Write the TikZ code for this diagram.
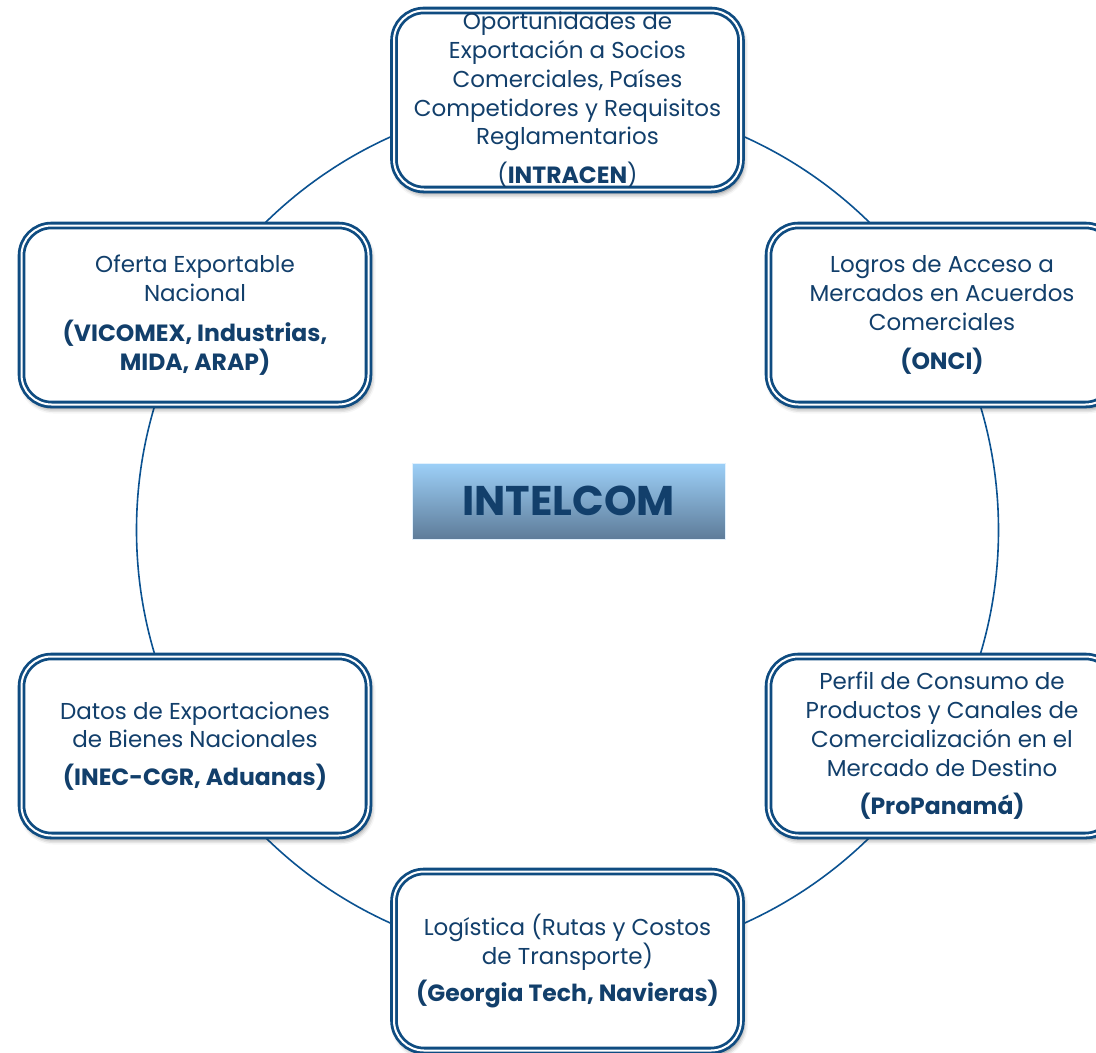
\documentclass[tikz,border=0pt]{standalone}
\usepackage{fontspec}
\setmainfont{Poppins}
\usetikzlibrary{shadows.blur}
\definecolor{boxblue}{HTML}{0F4C81}
\definecolor{txtblue}{HTML}{123F6B}
\definecolor{arcblue}{HTML}{0B5291}
\definecolor{gtop}{HTML}{9DD0F8}
\definecolor{gbot}{HTML}{5E7C99}
\newcommand{\bx}[1]{{\fontsize{23.5}{28.8}\selectfont\bfseries #1}}
\tikzset{
 infobox/.style={draw=boxblue, line width=2.8pt, double=white, double distance=2pt,
   rounded corners=30pt, fill=white,
   blur shadow={shadow xshift=2pt, shadow yshift=-4pt, shadow blur radius=5pt, shadow opacity=55},
   minimum width=347pt, minimum height=179pt, inner sep=0pt,
   text=txtblue, align=center, font=\fontsize{23}{28.8}\selectfont},
 centerbox/.style={minimum width=313pt, minimum height=76pt, top color=gtop, bottom color=gbot,
   draw=white!70!gtop, line width=0.8pt, text=txtblue, inner sep=0pt,
   font=\fontsize{41.5}{48}\selectfont\bfseries},
}
\begin{document}
\begin{tikzpicture}[x=1pt,y=-1pt]
\useasboundingbox (0,0) rectangle (1096,1053);
\coordinate (O) at (567.5,530);
\draw[arcblue, line width=1.6pt] (O) circle (431pt);
\node[infobox] (top) at (567.5,100) {Oportunidades de\\Exportación a Socios\\Comerciales, Países\\Competidores y Requisitos\\Reglamentarios\\[10pt](\bx{INTRACEN})};
\node[infobox] (ur) at (942,315) {Logros de Acceso a\\Mercados en Acuerdos\\Comerciales\\[10pt]\bx{(ONCI)}};
\node[infobox] (lr) at (942,746) {Perfil de Consumo de\\Productos y Canales de\\Comercialización en el\\Mercado de Destino\\[10pt]\bx{(ProPanamá)}};
\node[infobox] (bot) at (567.5,961) {Logística (Rutas y Costos\\de Transporte)\\[9pt]\bx{(Georgia Tech, Navieras)}};
\node[infobox] (ll) at (195,746) {Datos de Exportaciones\\de Bienes Nacionales\\[9pt]\bx{(INEC-CGR, Aduanas)}};
\node[infobox] (ul) at (195,315) {Oferta Exportable\\Nacional\\[11pt]\bx{(VICOMEX, Industrias,}\\\bx{MIDA, ARAP)}};
\node[centerbox] (intelcom) at (568.5,501) {INTELCOM};
\end{tikzpicture}
\end{document}
